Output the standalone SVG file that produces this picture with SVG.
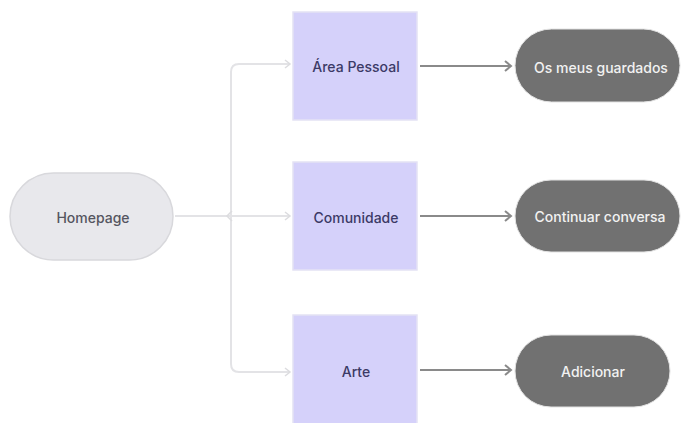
<svg xmlns="http://www.w3.org/2000/svg" width="687" height="423" viewBox="0 0 687 423">
<defs>
<style>
.t{font-family:Inter,"Liberation Sans",sans-serif;font-size:14px;font-weight:500;text-anchor:middle;dominant-baseline:central}
.home{fill:#e8e8ec;stroke:#d8d8dc;stroke-width:1.5}
.box{fill:#d5d1fa;stroke:#e4e2f4;stroke-width:1.5}
.pill{fill:#717171;stroke:#e2e2e2;stroke-width:1}
.lc{fill:none;stroke:#e3e3e6;stroke-width:2}
.dc{fill:none;stroke:#8a8a8a;stroke-width:2}
</style>
<marker id="la" viewBox="0 0 10 10" refX="8" refY="5" markerWidth="10" markerHeight="10" markerUnits="userSpaceOnUse" orient="auto">
<path d="M3,1 L8,5 L3,9" fill="none" stroke="#dcdcdf" stroke-width="1.5"/>
</marker>
<marker id="da" viewBox="0 0 12 12" refX="10" refY="6" markerWidth="12" markerHeight="12" markerUnits="userSpaceOnUse" orient="auto">
<path d="M4,1 L10,6 L4,11" fill="none" stroke="#8a8a8a" stroke-width="2"/>
</marker>
</defs>
<g id="connectors">
<path class="lc" d="M175,216 H290" marker-end="url(#la)"/>
<path class="lc" d="M231,216 V72 Q231,64 239,64 H290" marker-end="url(#la)"/>
<path class="lc" d="M231,216 V364 Q231,372 239,372 H290" marker-end="url(#la)"/>
<path d="M232,211 L227,216 L232,221" fill="none" stroke="#dcdcdf" stroke-width="1.5"/>
<path class="dc" d="M420,66 H511" marker-end="url(#da)"/>
<path class="dc" d="M420,216 H511" marker-end="url(#da)"/>
<path class="dc" d="M420,370 H511" marker-end="url(#da)"/>
</g>
<g id="homepage">
<rect class="home" x="10" y="173" width="163" height="87" rx="43.5"/>
<text class="t" x="93" y="217" fill="#555560">Homepage</text>
</g>
<g id="area-pessoal">
<rect class="box" x="293" y="12" width="124" height="108"/>
<text class="t" x="356" y="66" fill="#3c3a66">Área Pessoal</text>
</g>
<g id="comunidade">
<rect class="box" x="293" y="162" width="124" height="108"/>
<text class="t" x="356" y="217" fill="#3c3a66">Comunidade</text>
</g>
<g id="arte">
<rect class="box" x="293" y="315" width="124" height="110"/>
<text class="t" x="356" y="371" fill="#3c3a66">Arte</text>
</g>
<g id="os-meus-guardados">
<rect class="pill" x="515" y="29" width="165" height="73" rx="36.5"/>
<text class="t" x="601" y="67" fill="#f2f2f2">Os meus guardados</text>
</g>
<g id="continuar-conversa">
<rect class="pill" x="515" y="180" width="165" height="72" rx="36"/>
<text class="t" x="600" y="216" fill="#f2f2f2">Continuar conversa</text>
</g>
<g id="adicionar">
<rect class="pill" x="515" y="335" width="155" height="72" rx="36"/>
<text class="t" x="593" y="371" fill="#f2f2f2">Adicionar</text>
</g>
</svg>
